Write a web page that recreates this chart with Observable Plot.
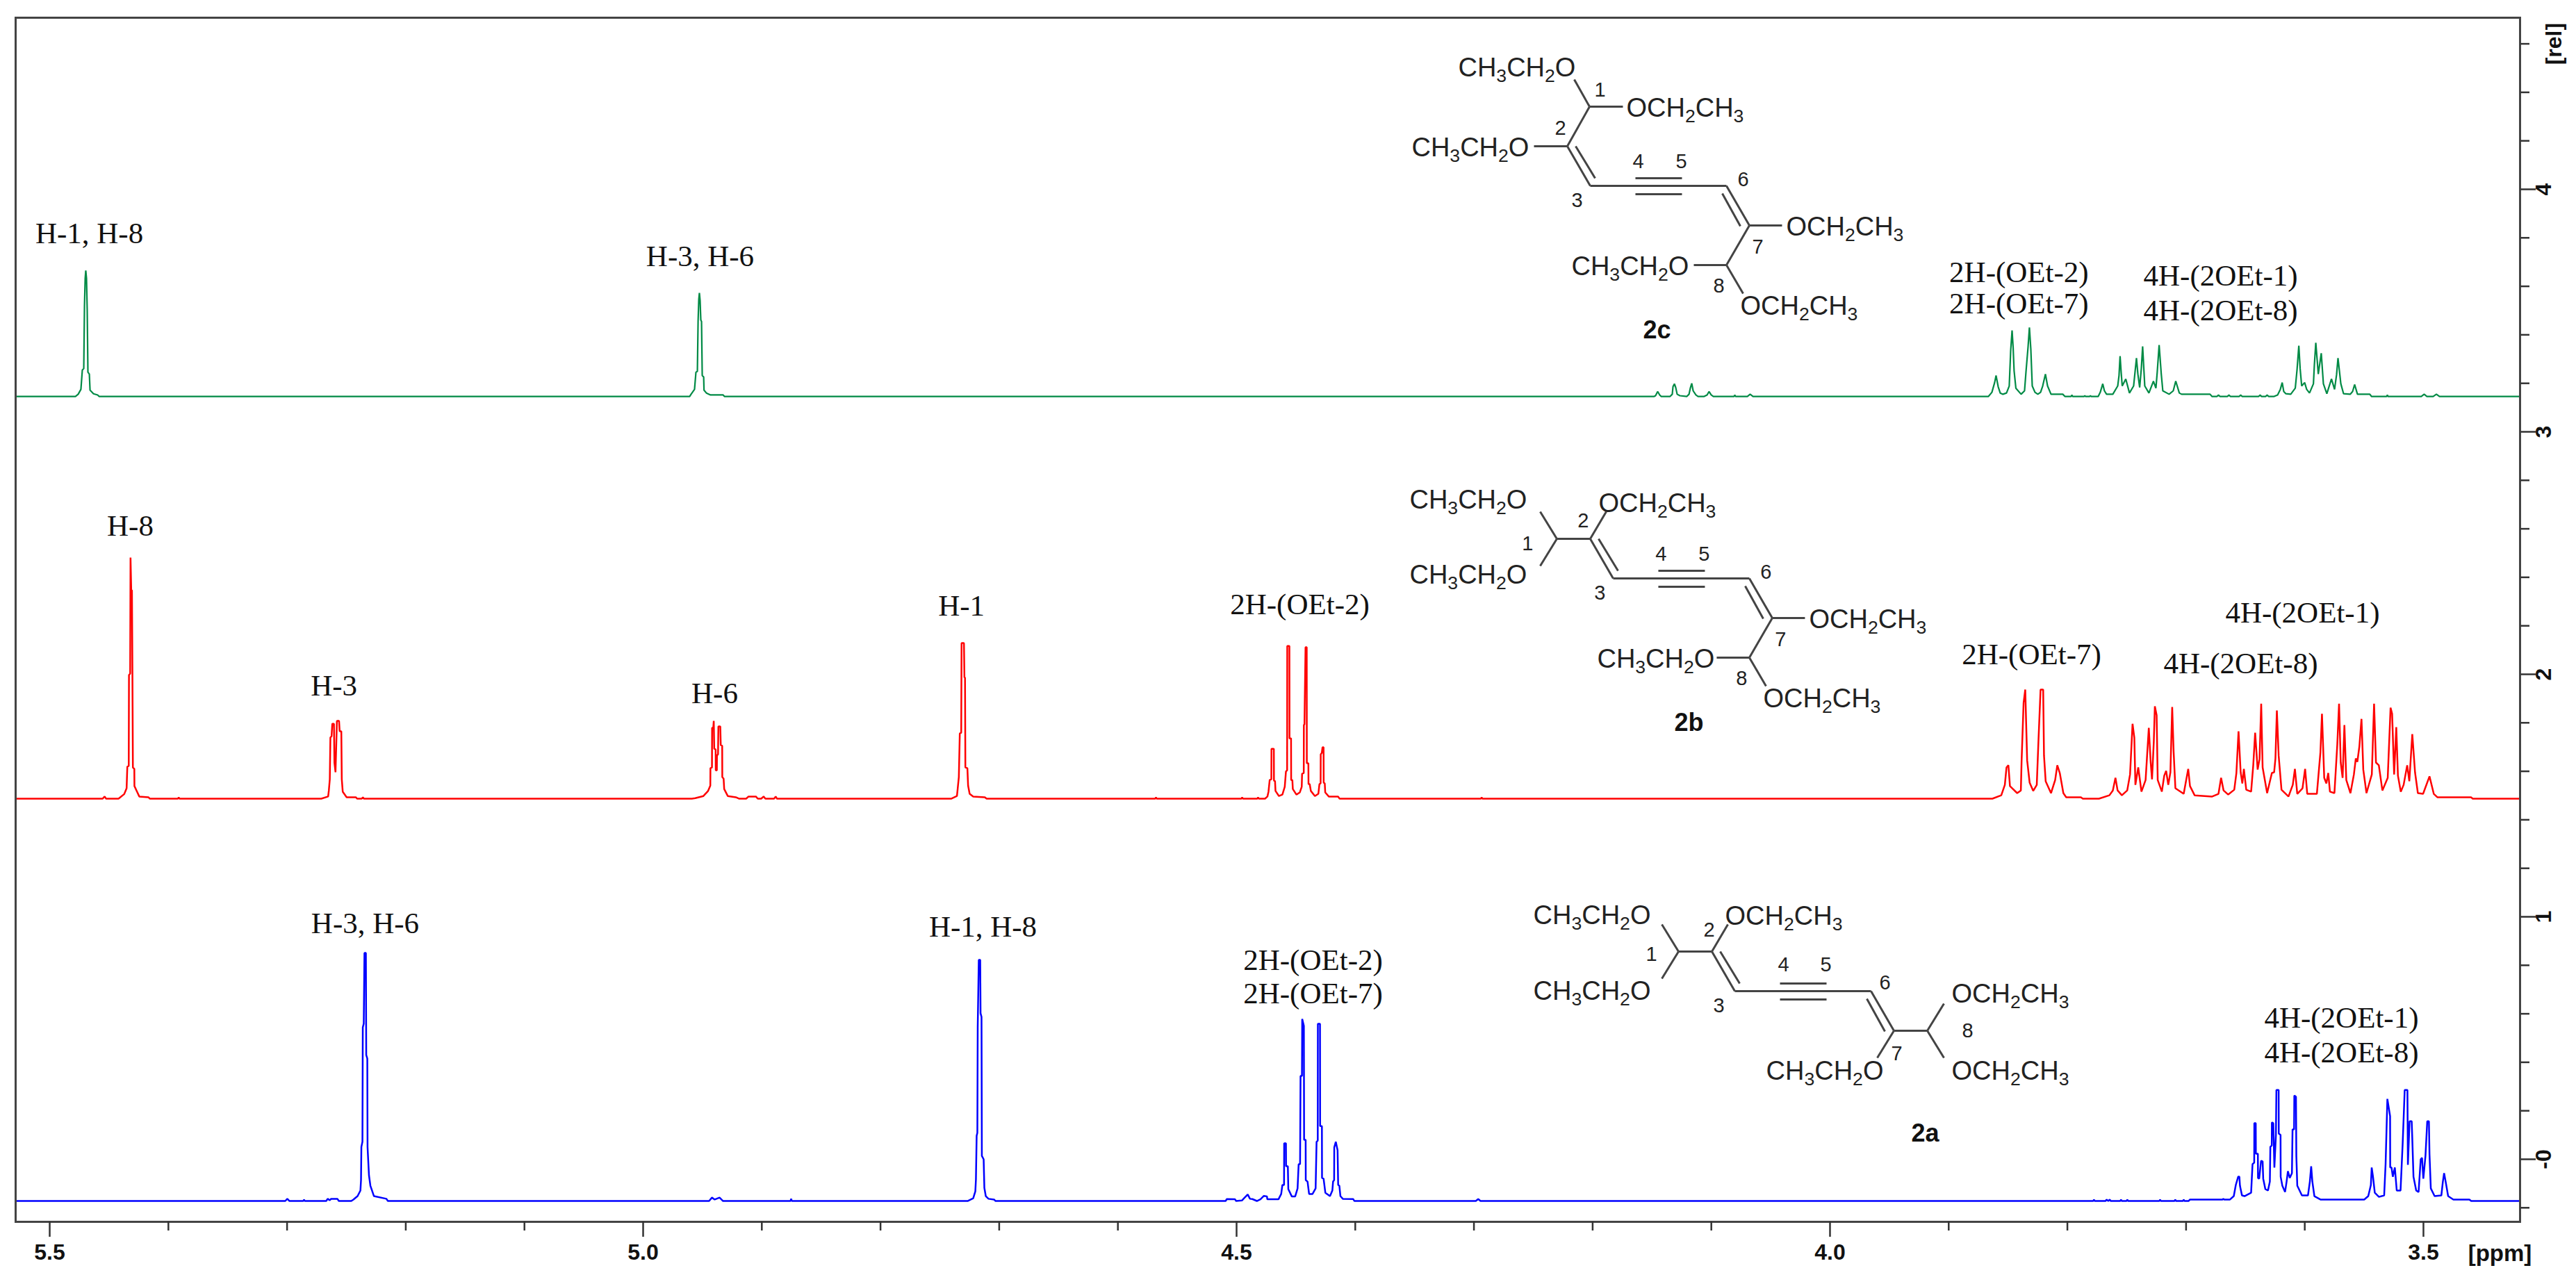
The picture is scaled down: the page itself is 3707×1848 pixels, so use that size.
<!DOCTYPE html>
<html><head><meta charset="utf-8">
<script src="https://cdn.jsdelivr.net/npm/d3@7"></script>
<script src="https://cdn.jsdelivr.net/npm/@observablehq/plot@0.6"></script>
<style>html,body{margin:0;padding:0;background:#fff}svg{display:block}</style>
</head><body><div id="chart"></div>
<script>
// ---- axis ticks
const ppmMajor=[5.5,5.0,4.5,4.0,3.5];
const ppmMinor=[5.4,5.3,5.2,5.1,4.9,4.8,4.7,4.6,4.4,4.3,4.2,4.1,3.9,3.8,3.7,3.6];
const relMajor=[4,3,2,1,0];
const relMinor=[4.6,4.4,4.2,3.8,3.6,3.4,3.2,2.8,2.6,2.4,2.2,1.8,1.6,1.4,1.2,0.8,0.6,0.4,0.2,-0.2];
const ppmDomain=[5.5287,3.4186], relDomain=[-0.2579,4.7077];
// ---- baselines of the three stacked traces
const greenBase=3.146, redBase=1.487, blueBase=-0.172;

// ---- green trace (2c): [ppm, height above baseline]
const greenH1=[[5.4783,0],[5.4760,.009],[5.4737,.029],[5.4725,.109],[5.4713,.115],[5.4707,.372],[5.4701,.487],[5.4696,.519],[5.4690,.487],[5.4684,.358],[5.4678,.100],[5.4666,.092],[5.4660,.026],[5.4631,.011],[5.4596,.006],[5.4584,0]];
const greenH3=[[4.9608,0],[4.9596,.009],[4.9567,.029],[4.9555,.100],[4.9543,.103],[4.9537,.309],[4.9531,.401],[4.9526,.427],[4.9520,.395],[4.9514,.315],[4.9508,.309],[4.9502,.086],[4.9490,.080],[4.9487,.026],[4.9467,.014],[4.9432,.006],[4.9326,.006],[4.9315,0]];
const greenMinor=[[4.1481,0],[4.1470,.003],[4.1452,.020],[4.1435,.006],[4.1423,0],[4.1347,0],[4.1329,.009],[4.1323,.040],[4.1311,.052],[4.1300,.037],[4.1288,.009],[4.1265,.003],[4.1206,0],[4.1188,.009],[4.1177,.034],[4.1165,.054],[4.1153,.023],[4.1130,.006],[4.1112,0],[4.1060,0],[4.1036,.006],[4.1019,.020],[4.1001,.006],[4.0983,0],[4.0808,0],[4.0802,.006],[4.0796,0],[4.0696,0],[4.0673,.009],[4.0649,0]];
const greenOEt=[[3.8665,0],[3.8636,.017],[3.8613,.057],[3.8601,.086],[3.8583,.040],[3.8566,.014],[3.8543,.009],[3.8513,.014],[3.8490,.043],[3.8478,.186],[3.8466,.272],[3.8457,.201],[3.8449,.106],[3.8434,.034],[3.8390,.009],[3.8361,.023],[3.8349,.100],[3.8331,.206],[3.8320,.284],[3.8308,.195],[3.8296,.043],[3.8273,.017],[3.8249,.009],[3.8226,.017],[3.8208,.043],[3.8185,.092],[3.8167,.043],[3.8138,.009],[3.8039,.009],[3.8021,0],[3.7968,0],[3.7962,.006],[3.7956,0],[3.7859,0],[3.7853,.003],[3.7847,0],[3.7812,0],[3.7806,.003],[3.7800,0]];
const greenOEt1=[[3.7740,0],[3.7723,.017],[3.7702,.052],[3.7688,.023],[3.7670,.009],[3.7617,.009],[3.7576,.043],[3.7565,.086],[3.7556,.166],[3.7547,.100],[3.7538,.043],[3.7508,.072],[3.7477,.014],[3.7442,.043],[3.7418,.158],[3.7406,.092],[3.7391,.037],[3.7377,.115],[3.7366,.206],[3.7348,.043],[3.7313,.014],[3.7275,.063],[3.7254,.034],[3.7243,.100],[3.7227,.212],[3.7209,.092],[3.7196,.023],[3.7143,.009],[3.7108,.023],[3.7087,.063],[3.7057,.014],[3.7038,.009],[3.6798,.009],[3.6782,0],[3.6739,0],[3.6727,.006],[3.6715,0],[3.6651,0],[3.6639,.006],[3.6627,0],[3.6552,0],[3.6540,.006],[3.6528,0]];
const greenOEt8=[[3.6388,0],[3.6376,.006],[3.6365,0],[3.6329,0],[3.6317,.006],[3.6305,0],[3.6258,0],[3.6229,.006],[3.6206,.029],[3.6190,.057],[3.6177,.020],[3.6159,.011],[3.6118,.009],[3.6080,.034],[3.6065,.110],[3.6050,.209],[3.6039,.115],[3.6026,.043],[3.6001,.057],[3.5984,.029],[3.5960,.014],[3.5927,.052],[3.5919,.130],[3.5907,.221],[3.5886,.092],[3.5861,.178],[3.5843,.052],[3.5814,.011],[3.5775,.072],[3.5749,.029],[3.5732,.090],[3.5720,.158],[3.5696,.052],[3.5673,.011],[3.5617,.009],[3.5597,.020],[3.5580,.049],[3.5556,.009],[3.5452,.009],[3.5438,0],[3.5310,0],[3.5304,.006],[3.5299,0],[3.5018,0],[3.4994,.009],[3.4971,0],[3.4918,0],[3.4891,.009],[3.4865,0]];

// ---- red trace (2b)
const redH8=[[5.4555,0],[5.4537,.009],[5.4525,0],[5.4420,0],[5.4372,.019],[5.4352,.043],[5.4346,.132],[5.4334,.135],[5.4332,.510],[5.4322,.516],[5.4319,.994],[5.4313,.86],[5.4307,.86],[5.4303,.516],[5.4299,.129],[5.4287,.123],[5.4286,.052],[5.4264,.029],[5.4245,.009],[5.4167,.006],[5.4157,0],[5.3919,0],[5.3913,.006],[5.3907,0]];
const redH3=[[5.2712,0],[5.2654,.009],[5.2648,.034],[5.2640,.080],[5.2635,.252],[5.2625,.258],[5.2619,.309],[5.2605,.309],[5.2601,.149],[5.2592,.109],[5.2580,.321],[5.2562,.321],[5.2557,.278],[5.2543,.278],[5.2539,.080],[5.2531,.029],[5.2498,.006],[5.2420,.006],[5.2410,0],[5.2371,0],[5.2361,.006],[5.2353,0]];
const redH6=[[4.9590,0],[4.9561,.002],[4.9492,.011],[4.9454,.031],[4.9434,.054],[4.9433,.126],[4.9420,.129],[4.9419,.292],[4.9409,.292],[4.9405,.321],[4.9401,.206],[4.9389,.203],[4.9388,.117],[4.9379,.117],[4.9378,.178],[4.9369,.183],[4.9366,.298],[4.9350,.298],[4.9346,.221],[4.9334,.218],[4.9333,.089],[4.9322,.083],[4.9317,.040],[4.9287,.011],[4.9219,.006],[4.9190,0],[4.9132,0],[4.9112,.009],[4.9050,.009],[4.9034,0],[4.9005,0],[4.8985,.009],[4.8970,0],[4.8897,0],[4.8883,.009],[4.8872,0]];
const redH1=[[4.7405,0],[4.7356,.011],[4.7350,.040],[4.7340,.089],[4.7332,.269],[4.7320,.272],[4.7317,.642],[4.7297,.642],[4.7293,.501],[4.7288,.499],[4.7285,.129],[4.7268,.126],[4.7262,.054],[4.7249,.020],[4.7219,.009],[4.7121,.006],[4.7106,0]];
const redOEt2=[[4.5685,0],[4.5679,.006],[4.5673,0],[4.4959,0],[4.4953,.006],[4.4947,0],[4.4825,0],[4.4819,.006],[4.4813,0],[4.4760,0],[4.4740,.009],[4.4731,.029],[4.4721,.077],[4.4707,.080],[4.4706,.206],[4.4686,.206],[4.4685,.075],[4.4676,.072],[4.4672,.032],[4.4643,.011],[4.4614,.017],[4.4594,.049],[4.4584,.112],[4.4574,.117],[4.4573,.630],[4.4555,.630],[4.4554,.249],[4.4541,.249],[4.4540,.077],[4.4530,.077],[4.4526,.040],[4.4496,.017],[4.4467,.026],[4.4451,.049],[4.4448,.103],[4.4434,.106],[4.4433,.304],[4.4428,.307],[4.4419,.625],[4.4409,.625],[4.4408,.146],[4.4395,.146],[4.4394,.060],[4.4384,.060],[4.4374,.032],[4.4340,.011],[4.4311,.020],[4.4302,.060],[4.4292,.063],[4.4291,.183],[4.4282,.189],[4.4276,.212],[4.4267,.212],[4.4266,.066],[4.4257,.063],[4.4253,.026],[4.4223,.009],[4.4145,.009],[4.4132,0],[4.2941,0],[4.2935,.006],[4.2929,0]];
const redOEt7=[[3.8632,0],[3.8557,.014],[3.8527,.057],[3.8513,.129],[3.8497,.138],[3.8484,.052],[3.8423,.023],[3.8392,.034],[3.8386,.152],[3.8369,.395],[3.8355,.450],[3.8339,.158],[3.8318,.066],[3.8288,.032],[3.8258,.057],[3.8244,.235],[3.8226,.450],[3.8204,.450],[3.8197,.178],[3.8183,.072],[3.8138,.023],[3.8103,.077],[3.8085,.138],[3.8064,.106],[3.8034,.023],[3.8010,.006],[3.7886,.006],[3.7870,0]];
const redOEt18=[[3.7734,0],[3.7646,.014],[3.7617,.034],[3.7595,.086],[3.7577,.034],[3.7541,.014],[3.7496,.034],[3.7472,.100],[3.7451,.309],[3.7436,.252],[3.7427,.057],[3.7403,.129],[3.7376,.029],[3.7341,.077],[3.7314,.292],[3.7298,.149],[3.7287,.080],[3.7272,.235],[3.7263,.381],[3.7248,.344],[3.7239,.077],[3.7204,.029],[3.7184,.095],[3.7168,.115],[3.7150,.057],[3.7132,.109],[3.7117,.378],[3.7105,.195],[3.7090,.043],[3.7020,.020],[3.6982,.123],[3.6967,.052],[3.6928,.014],[3.6780,.009],[3.6727,.020],[3.6705,.086],[3.6684,.034],[3.6645,.017],[3.6594,.037],[3.6576,.106],[3.6558,.278],[3.6540,.109],[3.6526,.063],[3.6513,.123],[3.6493,.037],[3.6452,.029],[3.6434,.138],[3.6418,.272],[3.6397,.120],[3.6381,.163],[3.6367,.392],[3.6355,.129],[3.6317,.023],[3.6277,.106],[3.6258,.109],[3.6247,.166],[3.6235,.364],[3.6220,.178],[3.6196,.037],[3.6137,.009],[3.6101,.057],[3.6083,.123],[3.6063,.020],[3.6019,.043],[3.5997,.123],[3.5979,.020],[3.5898,.020],[3.5868,.192],[3.5855,.350],[3.5836,.086],[3.5818,.063],[3.5802,.106],[3.5788,.029],[3.5750,.023],[3.5726,.223],[3.5711,.392],[3.5697,.149],[3.5681,.086],[3.5666,.304],[3.5650,.077],[3.5615,.023],[3.5586,.100],[3.5570,.166],[3.5557,.152],[3.5540,.215],[3.5522,.329],[3.5507,.120],[3.5480,.023],[3.5435,.100],[3.5416,.392],[3.5400,.149],[3.5376,.138],[3.5346,.034],[3.5301,.086],[3.5277,.375],[3.5264,.350],[3.5247,.100],[3.5229,.295],[3.5215,.095],[3.5191,.029],[3.5167,.057],[3.5137,.138],[3.5119,.072],[3.5094,.266],[3.5071,.109],[3.5047,.023],[3.5003,.020],[3.4949,.092],[3.4913,.020],[3.4883,.006],[3.4599,.006],[3.4585,0]];

// ---- blue trace (2a)
const blueH3=[[5.3015,0],[5.2998,.009],[5.2980,0],[5.2863,0],[5.2857,.006],[5.2851,0],[5.2670,0],[5.2658,.009],[5.2640,.003],[5.2629,.009],[5.2576,.009],[5.2564,0],[5.2459,0],[5.2441,.006],[5.2406,.020],[5.2382,.043],[5.2377,.086],[5.2374,.223],[5.2365,.244],[5.2362,.716],[5.2354,.731],[5.2348,1.023],[5.2336,1.023],[5.2333,.602],[5.2324,.587],[5.2322,.223],[5.2310,.106],[5.2298,.063],[5.2268,.020],[5.2163,.009],[5.2151,0]];
const blueH6=[[4.9444,0],[4.9420,.014],[4.9397,.006],[4.9356,.014],[4.9327,0],[4.8758,0],[4.8753,.009],[4.8747,0]];
const blueH1=[[4.7266,0],[4.7219,.011],[4.7201,.040],[4.7196,.089],[4.7190,.269],[4.7184,.281],[4.7181,.716],[4.7172,.994],[4.7160,.994],[4.7157,.774],[4.7149,.759],[4.7146,.186],[4.7131,.172],[4.7125,.054],[4.7113,.020],[4.7090,.009],[4.7043,.006],[4.7032,0]];
const blueOEt=[[4.5092,0],[4.5082,.008],[4.5013,.007],[4.5004,0],[4.4955,.002],[4.4936,.012],[4.4906,.027],[4.4887,.009],[4.4867,.008],[4.4829,0],[4.4799,.007],[4.4770,.021],[4.4744,.019],[4.4741,.007],[4.4647,.007],[4.4624,.029],[4.4614,.066],[4.4600,.066],[4.4599,.238],[4.4584,.238],[4.4583,.143],[4.4568,.143],[4.4564,.049],[4.4535,.019],[4.4506,.019],[4.4486,.052],[4.4477,.152],[4.4465,.152],[4.4461,.516],[4.4449,.516],[4.4447,.751],[4.4433,.722],[4.4431,.252],[4.4418,.252],[4.4417,.086],[4.4402,.080],[4.4389,.029],[4.4360,.029],[4.4334,.052],[4.4326,.244],[4.4316,.249],[4.4315,.731],[4.4297,.731],[4.4296,.309],[4.4281,.309],[4.4280,.095],[4.4267,.092],[4.4252,.034],[4.4213,.020],[4.4193,.043],[4.4187,.080],[4.4178,.086],[4.4177,.221],[4.4164,.244],[4.4149,.209],[4.4144,.066],[4.4134,.063],[4.4125,.020],[4.4105,.009],[4.4017,.008],[4.4008,0],[4.2984,0],[4.2964,.008],[4.2945,0]];
const blueOEt1=[[3.7782,0],[3.7776,.006],[3.7770,0],[3.7677,0],[3.7671,.006],[3.7655,0],[3.7642,.006],[3.7636,0],[3.7554,0],[3.7548,.006],[3.7542,0],[3.7501,0],[3.7495,.006],[3.7489,0],[3.7225,0],[3.7219,.006],[3.7213,0],[3.7097,0],[3.7091,.006],[3.7085,0],[3.7026,0],[3.7020,.006],[3.7014,0],[3.6979,0],[3.6967,.006],[3.6692,.006],[3.6686,.009],[3.6680,.006],[3.6630,.006],[3.6598,.020],[3.6581,.066],[3.6561,.100],[3.6551,.100],[3.6546,.063],[3.6529,.023],[3.6507,.020],[3.6452,.034],[3.6440,.152],[3.6426,.158],[3.6425,.321],[3.6413,.321],[3.6412,.195],[3.6395,.195],[3.6394,.095],[3.6384,.092],[3.6368,.166],[3.6355,.163],[3.6350,.092],[3.6332,.049],[3.6310,.043],[3.6294,.080],[3.6290,.223],[3.6278,.229],[3.6277,.324],[3.6265,.321],[3.6256,.138],[3.6243,.272],[3.6239,.458],[3.6220,.458],[3.6219,.278],[3.6204,.272],[3.6203,.100],[3.6189,.063],[3.6166,.037],[3.6153,.080],[3.6142,.123],[3.6126,.095],[3.6108,.115],[3.6103,.295],[3.6090,.295],[3.6088,.435],[3.6074,.430],[3.6071,.186],[3.6063,.063],[3.6024,.023],[3.5973,.023],[3.5957,.080],[3.5946,.143],[3.5936,.080],[3.5919,.020],[3.5868,.006]];
const blueOEt8=[[3.5499,.006],[3.5465,.020],[3.5443,.066],[3.5436,.138],[3.5425,.100],[3.5410,.034],[3.5375,.017],[3.5331,.023],[3.5319,.152],[3.5304,.421],[3.5281,.350],[3.5280,.138],[3.5269,.138],[3.5258,.100],[3.5241,.138],[3.5225,.043],[3.5193,.043],[3.5175,.238],[3.5158,.458],[3.5135,.458],[3.5131,.149],[3.5117,.329],[3.5099,.329],[3.5095,.272],[3.5084,.100],[3.5061,.043],[3.5041,.037],[3.5023,.172],[3.5012,.178],[3.5001,.092],[3.4983,.186],[3.4968,.329],[3.4954,.329],[3.4949,.192],[3.4938,.052],[3.4906,.020],[3.4849,.023],[3.4837,.077],[3.4826,.115],[3.4812,.077],[3.4792,.020],[3.4748,.006],[3.4613,.006],[3.4598,0]];

// ---- peak assignment labels: [text, ppm, rel]
const peakLabels=[
 ["H-1, H-8",5.4666,3.8166],["H-3, H-6",4.9520,3.7221],["2H-(OEt-2)",3.8408,3.6562],["2H-(OEt-7)",3.8408,3.5272],["4H-(2OEt-1)",3.6709,3.6418],["4H-(2OEt-8)",3.6709,3.4986],
 ["H-8",5.4321,2.6103],["H-3",5.2605,1.9513],["H-6",4.9397,1.9198],["H-1",4.7318,2.2808],["2H-(OEt-2)",4.4467,2.2865],["2H-(OEt-7)",3.8302,2.0802],["4H-(2OEt-1)",3.6019,2.2521],["4H-(2OEt-8)",3.6540,2.0430],
 ["H-3, H-6",5.2342,.9713],["H-1, H-8",4.7137,.9570],["2H-(OEt-2)",4.4356,.8195],["2H-(OEt-7)",4.4356,.6819],["4H-(2OEt-1)",3.5691,.5817],["4H-(2OEt-8)",3.5691,.4384]];

// ---- structure drawings. Local drawing units, origin at atom C3; one unit = 1/1708 ppm, 1/349 rel
const ux=1/1708, uy=1/349;
const origins={c:[4.2020,4.0143],b:[4.1827,2.3954],a:[4.0802,.6934]};
const right=[[196,0,229,57],[190,11,216,58],[229,57,276,57],[229,57,196,114],[196,114,149,114],[196,114,220,155]];
const chain=[[0,0,196,0],[65,-11,132,-11],[65,12,132,12]];
const bondsC=[[-1,-114,-23,-153],[-1,-114,47,-114],[-1,-114,-33,-57],[-33,-57,-81,-57],[-33,-57,0,0],[-21,-57,7,-11],...chain,...right];
const bondsB=[[-81,-57,-105,-96],[-81,-57,-105,-18],[-81,-57,-33,-57],[-33,-57,-10,-96],[-33,-57,0,0],[-21,-57,7,-11],...chain,...right];
const bondsA=[[-81,-57,-105,-96],[-81,-57,-105,-18],[-81,-57,-33,-57],[-33,-57,-10,-96],[-33,-57,0,0],[-21,-57,7,-11],...chain,[196,0,229,57],[190,11,216,58],[229,57,205,96],[229,57,277,57],[277,57,301,18],[277,57,301,96]];
const chemC=[["CH3CH2O",-190,-170],["OCH2CH3",52,-112],["CH3CH2O",-257,-55],["OCH2CH3",282,59],["CH3CH2O",-27,116],["OCH2CH3",216,173]];
const chemB=[["CH3CH2O",-293,-113],["CH3CH2O",-293,-5],["OCH2CH3",-21,-108],["OCH2CH3",282,59],["CH3CH2O",-23,116],["OCH2CH3",216,173]];
const chemA=[["CH3CH2O",-290,-109],["CH3CH2O",-290,0],["OCH2CH3",-14,-108],["CH3CH2O",45,115],["OCH2CH3",312,4],["OCH2CH3",312,115]];
const numsC=[["1",14,-138],["2",-43,-83],["3",-19,21],["4",69,-35],["5",131,-35],["6",220,-9],["7",241,88],["8",185,144]];
const numsB=[["1",-123,-50],["2",-43,-83],["3",-19,21],["4",69,-35],["5",131,-35],["6",220,-9],["7",241,88],["8",185,144]];
const numsA=[["1",-120,-53],["2",-37,-88],["3",-23,21],["4",70,-38],["5",131,-38],["6",216,-12],["7",233,90],["8",335,57]];
const compoundNames=[["2c",96,208,"c"],["2b",109,208,"b"],["2a",274,205,"a"]];

// ---- build
const series=(base,...parts)=>{
  const pts=parts.flat().map(([ppm,h])=>({ppm,rel:base+h}));
  return [{ppm:ppmDomain[0],rel:base},...pts,{ppm:ppmDomain[1],rel:base}];
};
const bonds=(o,list)=>list.map(([a,b,c,d])=>({x1:origins[o][0]-a*ux,y1:origins[o][1]-b*uy,x2:origins[o][0]-c*ux,y2:origins[o][1]-d*uy}));
const place=(o,list)=>list.map(([t,a,b])=>({t,x:origins[o][0]-a*ux,y:origins[o][1]-b*uy}));
const allBonds=[...bonds("c",bondsC),...bonds("b",bondsB),...bonds("a",bondsA)];
const chemText=[...place("c",chemC),...place("b",chemB),...place("a",chemA)];
const numText=[...place("c",numsC),...place("b",numsB),...place("a",numsA)];
const nameText=compoundNames.map(([t,a,b,o])=>place(o,[[t,a,b]])[0]);

const sans="'Liberation Sans',Arial,sans-serif", serif="'Liberation Serif','Times New Roman',serif";
const svg=Plot.plot({
  width:3707,height:1848,marginLeft:22,marginRight:81,marginTop:25,marginBottom:90,
  style:{background:"#fff",fontFamily:sans},
  x:{domain:ppmDomain,axis:null},
  y:{domain:relDomain,axis:null},
  marks:[
    Plot.line(series(greenBase,greenH1,greenH3,greenMinor,greenOEt,greenOEt1,greenOEt8),{x:"ppm",y:"rel",stroke:"#008a45",strokeWidth:2.2,strokeLinejoin:"miter",strokeMiterlimit:1}),
    Plot.line(series(redBase,redH8,redH3,redH6,redH1,redOEt2,redOEt7,redOEt18),{x:"ppm",y:"rel",stroke:"#ff0000",strokeWidth:2.5,strokeLinejoin:"miter",strokeMiterlimit:1}),
    Plot.line(series(blueBase,blueH3,blueH6,blueH1,blueOEt,blueOEt1,blueOEt8),{x:"ppm",y:"rel",stroke:"#0000ff",strokeWidth:2.5,strokeLinejoin:"miter",strokeMiterlimit:1}),
    Plot.frame({stroke:"#444",strokeWidth:3}),
    Plot.axisX(ppmMajor,{anchor:"bottom",tickSize:22,tickPadding:10,tickFormat:d=>d.toFixed(1),fontSize:32,fontWeight:"bold",fill:"#111",stroke:"#333",strokeWidth:2.5,textStroke:"none",label:null}),
    Plot.axisX(ppmMinor,{anchor:"bottom",tickSize:13,tickFormat:()=>"",stroke:"#333",strokeWidth:2.5,label:null}),
    Plot.axisY(relMajor,{anchor:"right",tickSize:22,tickPadding:22,tickRotate:-90,textAnchor:"middle",tickFormat:d=>d===0?"-0":String(d),fontSize:32,fontWeight:"bold",fill:"#111",stroke:"#333",strokeWidth:2.5,label:null}),
    Plot.axisY(relMinor,{anchor:"right",tickSize:13,tickFormat:()=>"",stroke:"#333",strokeWidth:2.5,label:null}),
    Plot.text(["[ppm]"],{x:()=>3.4356,y:()=>relDomain[0],dy:46,fontSize:33,fontWeight:"bold",fill:"#111"}),
    Plot.text(["[rel]"],{x:()=>ppmDomain[1],y:()=>4.6,dx:49,rotate:-90,fontSize:32,fontWeight:"bold",fill:"#111"}),
    Plot.text(peakLabels,{x:d=>d[1],y:d=>d[2],text:d=>d[0],fontFamily:serif,fontSize:43,fill:"#111"}),
    Plot.link(allBonds,{x1:"x1",y1:"y1",x2:"x2",y2:"y2",stroke:"#444",strokeWidth:3}),
    Plot.text(chemText,{x:"x",y:"y",text:"t",textAnchor:"start",fontSize:38,fill:"#222",className:"chem"}),
    Plot.text(numText,{x:"x",y:"y",text:"t",fontSize:29,fill:"#222"}),
    Plot.text(nameText,{x:"x",y:"y",text:"t",fontSize:36,fontWeight:"bold",fill:"#111"})
  ]
});
// chemical formulas: set the digits as subscripts
svg.querySelectorAll(".chem text").forEach(el=>{
  const s=el.textContent; el.textContent="";
  let prev=false;
  for(const part of s.split(/(\d)/).filter(Boolean)){
    const sub=/\d/.test(part);
    const ts=document.createElementNS("http://www.w3.org/2000/svg","tspan");
    ts.textContent=part;
    if(sub){ts.setAttribute("font-size","70%");ts.setAttribute("dy","0.3em");}
    else if(prev){ts.setAttribute("dy","-0.21em");}
    el.appendChild(ts); prev=sub;
  }
});
document.getElementById("chart").appendChild(svg);
</script></body></html>
